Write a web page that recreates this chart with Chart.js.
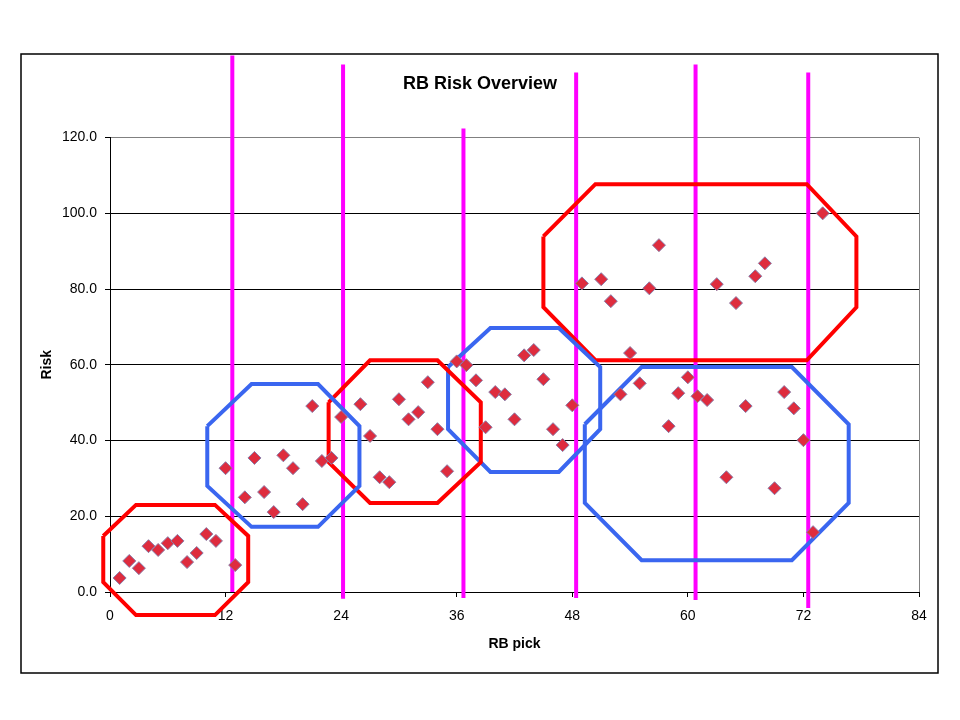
<!DOCTYPE html>
<html>
<head>
<meta charset="utf-8">
<title>RB Risk Overview</title>
<script src="https://cdn.jsdelivr.net/npm/chart.js@4/dist/chart.umd.min.js"></script>
<style>
  body { margin: 0; background: #fff; }
  canvas { display: block; }
</style>
</head>
<body>
<canvas id="myChart" width="960" height="720"></canvas>
<script>
// RB pick number and risk score
const picks = [1, 2, 3, 4, 5, 6, 7, 8, 9, 10, 11, 12, 13, 14, 15, 16, 17, 18, 19, 20, 21, 22, 23, 24,
  26, 27, 28, 29, 30, 31, 32, 33, 34, 35, 36, 37, 38, 39, 40, 41, 42, 43, 44, 45, 46, 47, 48, 49,
  51, 52, 53, 54, 55, 56, 57, 58, 59, 60, 61, 62, 63, 64, 65, 66, 67, 68, 69, 70, 71, 72, 73, 74];
const risk = [3.7, 8.2, 6.3, 12.1, 11.1, 12.9, 13.5, 7.9, 10.3, 15.3, 13.5, 32.7, 7.1, 25.0, 35.4, 26.4, 21.1, 36.1, 32.7, 23.2, 49.1, 34.6, 35.4, 46.2,
  49.6, 41.2, 30.3, 29.0, 50.9, 45.6, 47.5, 55.4, 43.0, 31.9, 60.9, 59.9, 55.9, 43.5, 52.8, 52.2, 45.6, 62.5, 63.9, 56.2, 43.0, 38.8, 49.3, 81.5,
  82.6, 76.8, 52.2, 63.1, 55.1, 80.2, 91.6, 43.8, 52.5, 56.7, 51.7, 50.7, 81.3, 30.3, 76.3, 49.1, 83.4, 86.8, 27.4, 52.8, 48.5, 40.1, 15.8, 100.0];

// tier group outlines (octagons), in axis units
const red1X = [-0.7, 2.7, 10.9, 14.35, 14.35, 10.9, 2.7, -0.7, -0.7];
const red1Y = [14.8, 23.0, 23.0, 14.8, 2.6, -6.1, -6.1, 2.6, 14.8];
const blue1X = [10.1, 14.7, 21.6, 25.9, 25.9, 21.6, 14.7, 10.1, 10.1];
const blue1Y = [43.8, 54.9, 54.9, 43.8, 28.0, 17.2, 17.2, 28.0, 43.8];
const red2X = [22.7, 27.0, 34.0, 38.5, 38.5, 34.0, 27.0, 22.7, 22.7];
const red2Y = [50.1, 61.2, 61.2, 50.1, 34.3, 23.5, 23.5, 34.3, 50.1];
const blue2X = [35.1, 39.5, 46.6, 50.9, 50.9, 46.6, 39.5, 35.1, 35.1];
const blue2Y = [59.4, 69.7, 69.7, 59.4, 43.0, 31.7, 31.7, 43.0, 59.4];
const red3X = [45.0, 50.4, 72.35, 77.5, 77.5, 72.35, 50.4, 45.0, 45.0];
const red3Y = [93.9, 107.7, 107.7, 93.9, 75.2, 61.2, 61.2, 75.2, 93.9];
const blue3X = [49.3, 55.2, 70.8, 76.7, 76.7, 70.8, 55.2, 49.3, 49.3];
const blue3Y = [44.3, 59.4, 59.4, 44.3, 23.5, 8.4, 8.4, 23.5, 44.3];

// round dividers (vertical magenta lines)
const dividerX = [12.7, 24.2, 36.7, 48.4, 60.8, 72.5];
const dividerTop = [141.7, 139.3, 122.4, 137.2, 139.3, 137.2];
const dividerBottom = [0, -1.8, -1.6, -1.6, -2.1, -4.2];

const xTicks = [0, 12, 24, 36, 48, 60, 72, 84];
const yTicks = [0, 20, 40, 60, 80, 100, 120];

const FONT = "'Liberation Sans', Arial, sans-serif";

function toPoints(xs, ys) {
  return xs.map((x, i) => ({ x: x, y: ys[i] }));
}

function outline(xs, ys, color) {
  return {
    type: "line",
    data: toPoints(xs, ys),
    borderColor: color,
    borderWidth: 4,
    pointRadius: 0,
    fill: false,
    tension: 0,
    clip: false,
    order: 1
  };
}

var datasets = [{
  type: "scatter",
  label: "Risk",
  data: toPoints(picks, risk),
  pointStyle: "rectRot",
  pointRadius: 6.5,
  backgroundColor: "#DE2C3E",
  borderColor: "#8A7CA8",
  borderWidth: 1,
  order: 0
}];

datasets.push(outline(red1X, red1Y, "#FF0000"));
datasets.push(outline(blue1X, blue1Y, "#3A66F0"));
datasets.push(outline(red2X, red2Y, "#FF0000"));
datasets.push(outline(blue2X, blue2Y, "#3A66F0"));
datasets.push(outline(red3X, red3Y, "#FF0000"));
datasets.push(outline(blue3X, blue3Y, "#3A66F0"));

dividerX.forEach((x, i) => {
  datasets.push({
    type: "line",
    data: [{ x: x, y: dividerBottom[i] }, { x: x, y: dividerTop[i] }],
    borderColor: "#FF00FF",
    borderWidth: 4,
    pointRadius: 0,
    clip: false,
    order: 2
  });
});

// white page with a thin frame round the whole chart, and grey right edge of the plot
const frame = {
  id: "frame",
  beforeDraw(chart) {
    const ctx = chart.ctx;
    ctx.save();
    ctx.fillStyle = "#fff";
    ctx.fillRect(0, 0, chart.width, chart.height);
    ctx.strokeStyle = "#000";
    ctx.lineWidth = 1.5;
    ctx.strokeRect(21, 54, 917, 619);
    ctx.restore();
  },
  beforeDatasetsDraw(chart) {
    const a = chart.chartArea;
    const ctx = chart.ctx;
    ctx.save();
    ctx.strokeStyle = "#808080";
    ctx.lineWidth = 1;
    ctx.beginPath();
    ctx.moveTo(Math.round(a.right) + 0.5, a.top);
    ctx.lineTo(Math.round(a.right) + 0.5, a.bottom);
    ctx.stroke();
    ctx.restore();
  }
};

var ctx = document.getElementById("myChart").getContext("2d");
var myChart = new Chart(ctx, {
  type: "scatter",
  data: { datasets: datasets },
  plugins: [frame],
  options: {
    responsive: false,
    animation: false,
    devicePixelRatio: 1,
    layout: { padding: { left: 41, right: 41, top: 0, bottom: 58 } },
    plugins: {
      legend: { display: false },
      tooltip: { enabled: false },
      title: {
        display: true,
        text: "RB Risk Overview",
        color: "#000",
        font: { family: FONT, size: 18, weight: "bold" },
        padding: { top: 73, bottom: 43 }
      }
    },
    scales: {
      x: {
        type: "linear",
        min: xTicks[0],
        max: xTicks[xTicks.length - 1],
        afterBuildTicks: s => { s.ticks = xTicks.map(v => ({ value: v })); },
        afterFit: s => { s.height = 70; },
        border: { color: "#000", width: 1 },
        grid: { drawOnChartArea: false, drawTicks: true, tickLength: 5, tickColor: "#000" },
        ticks: { color: "#000", padding: 11, font: { family: FONT, size: 14 } },
        title: {
          display: true,
          text: "RB pick",
          color: "#000",
          font: { family: FONT, size: 14, weight: "bold" },
          padding: { top: 0, bottom: 9 }
        }
      },
      y: {
        type: "linear",
        min: yTicks[0],
        max: yTicks[yTicks.length - 1],
        afterBuildTicks: s => { s.ticks = yTicks.map(v => ({ value: v })); },
        afterFit: s => { s.width = 69; },
        border: { color: "#000", width: 1 },
        grid: {
          color: c => (c.tick && c.tick.value === 120 ? "#808080" : "#000"),
          tickColor: "#000",
          tickLength: 5,
          lineWidth: 1
        },
        ticks: {
          color: "#000",
          padding: 8,
          font: { family: FONT, size: 14 },
          callback: v => v.toFixed(1)
        },
        title: {
          display: true,
          text: "Risk",
          color: "#000",
          font: { family: FONT, size: 14, weight: "bold" },
          padding: { top: -2, bottom: 0 }
        }
      }
    }
  }
});
</script>
</body>
</html>
